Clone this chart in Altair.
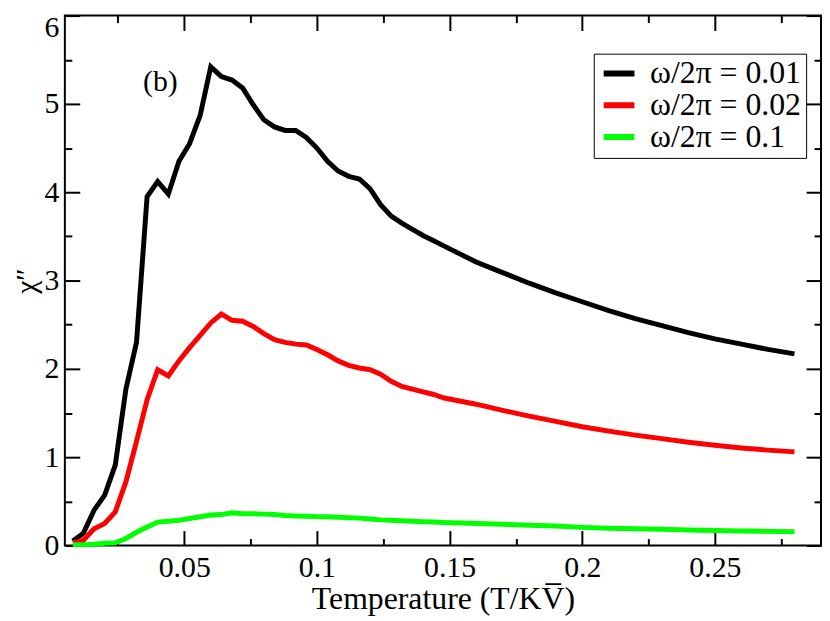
import altair as alt
import pandas as pd

# ---- data ----
T = [0.008, 0.012, 0.016, 0.020, 0.024, 0.028, 0.032, 0.036, 0.040, 0.044,
     0.048, 0.052, 0.056, 0.060, 0.064, 0.068, 0.072, 0.076, 0.080, 0.084,
     0.088, 0.092, 0.096, 0.100, 0.104, 0.108, 0.112, 0.116, 0.120, 0.124,
     0.128, 0.132, 0.136, 0.140, 0.144, 0.148,
     0.16, 0.17, 0.18, 0.19, 0.20, 0.21, 0.22, 0.23, 0.24, 0.25, 0.26, 0.27, 0.28]

chi_001 = [0.05, 0.14, 0.40, 0.57, 0.91, 1.77, 2.30, 3.95, 4.12, 3.98,
           4.35, 4.55, 4.87, 5.42, 5.31, 5.27, 5.18, 4.99, 4.82, 4.74,
           4.70, 4.70, 4.62, 4.50, 4.35, 4.24, 4.18, 4.15, 4.04, 3.86,
           3.73, 3.65, 3.58, 3.51, 3.45, 3.39,
           3.21, 3.09, 2.97, 2.86, 2.76, 2.66, 2.57, 2.49, 2.41, 2.34, 2.28, 2.22, 2.17]

chi_002 = [0.03, 0.06, 0.19, 0.25, 0.38, 0.72, 1.18, 1.65, 1.99, 1.92,
           2.09, 2.24, 2.38, 2.52, 2.62, 2.55, 2.54, 2.48, 2.40, 2.33,
           2.30, 2.28, 2.27, 2.22, 2.16, 2.09, 2.04, 2.01, 1.99, 1.94,
           1.86, 1.80, 1.77, 1.74, 1.71, 1.67,
           1.60, 1.53, 1.465, 1.405, 1.345, 1.295, 1.25, 1.21, 1.17, 1.135, 1.105, 1.08, 1.06]

chi_01 = [0.01, 0.01, 0.015, 0.025, 0.03, 0.08, 0.15, 0.21, 0.265, 0.275,
          0.285, 0.305, 0.325, 0.345, 0.35, 0.37, 0.36, 0.36, 0.355, 0.35,
          0.34, 0.335, 0.33, 0.327, 0.325, 0.32, 0.315, 0.31, 0.30, 0.29,
          0.285, 0.28, 0.275, 0.27, 0.265, 0.26,
          0.25, 0.24, 0.23, 0.22, 0.205, 0.195, 0.19, 0.185, 0.175, 0.17, 0.165, 0.16, 0.155]

series_names = ["ω/2π = 0.01", "ω/2π = 0.02", "ω/2π = 0.1"]
series_colors = ["#000000", "#ff0000", "#00ff00"]

x_major = [0.05, 0.1, 0.15, 0.2, 0.25]
x_minor = [0.025, 0.075, 0.125, 0.175, 0.225, 0.275]
y_major = [0, 1, 2, 3, 4, 5, 6]
y_minor = [0.5, 1.5, 2.5, 3.5, 4.5, 5.5]

note_text = ["(b)"]
note_x = [0.041]
note_y = [5.25]

rows = []
for name, vals in zip(series_names, [chi_001, chi_002, chi_01]):
    for t, v in zip(T, vals):
        rows.append({"T": t, "chi": v, "series": name})
df = pd.DataFrame(rows)
notes = pd.DataFrame({"text": note_text, "T": note_x, "chi": note_y})

FONT = "Liberation Serif"
x_scale = alt.Scale(domain=[0.005, 0.29], nice=False, zero=False)
y_scale = alt.Scale(domain=[0, 6], nice=False, zero=False)

base = alt.Chart(df)

lines = base.mark_line(strokeWidth=5).encode(
    x=alt.X("T:Q", scale=x_scale,
            axis=alt.Axis(orient="bottom", values=x_major, format="~g", ticks=False,
                          domain=False, grid=False, labelPadding=7,
                          labelFont=FONT, labelFontSize=30, labelColor="black",
                          title="Temperature (T/KV\u0305)", titleFont=FONT,
                          titleFontSize=32, titleFontWeight="normal",
                          titleColor="black", titlePadding=1)),
    y=alt.Y("chi:Q", scale=y_scale,
            axis=alt.Axis(orient="left", values=y_major, format="d", ticks=False,
                          domain=False, grid=False, labelPadding=6,
                          labelOffset={"condition": {"test": "datum.value === 6", "value": 12.5},
                                       "value": 0},
                          labelFont=FONT, labelFontSize=30, labelColor="black",
                          title="χ″", titleFont=FONT, titleFontSize=30,
                          titleFontWeight="normal", titleColor="black",
                          titlePadding=2.5)),
    color=alt.Color("series:N",
                    scale=alt.Scale(domain=series_names, range=series_colors),
                    legend=alt.Legend(title=None, orient="none", legendX=533, legendY=38.4,
                                      fillColor="white", strokeColor="black",
                                      padding=5, rowPadding=0, clipHeight=30,
                                      symbolOffset=2,
                                      symbolType="stroke", symbolSize=961,
                                      symbolStrokeWidth=6, labelFont=FONT,
                                      labelFontSize=32, labelColor="black",
                                      labelOffset=12.7, labelLimit=400)),
    order=alt.Order("T:Q"),
)


def tick_layer(xorient, yorient, xvals, yvals, size):
    inward = alt.ExprRef(expr=str(-size))
    return base.mark_line(strokeOpacity=0).encode(
        x=alt.X("T:Q", scale=x_scale,
                axis=alt.Axis(orient=xorient, values=xvals, tickSize=inward,
                              tickWidth=2, tickColor="black", labels=False,
                              domain=False, grid=False, title=None)),
        y=alt.Y("chi:Q", scale=y_scale,
                axis=alt.Axis(orient=yorient, values=yvals, tickSize=inward,
                              tickWidth=2, tickColor="black", labels=False,
                              domain=False, grid=False, title=None)),
        detail="series:N",
    )


note = alt.Chart(notes).mark_text(font=FONT, fontSize=30, color="black",
                                  align="center", baseline="middle").encode(
    x=alt.X("T:Q", scale=x_scale, axis=None),
    y=alt.Y("chi:Q", scale=y_scale, axis=None),
    text="text:N",
)

chart = alt.layer(
    lines,
    tick_layer("bottom", "left", x_major, y_major, 15),
    tick_layer("bottom", "left", x_minor, y_minor, 7),
    tick_layer("top", "right", x_major, y_major, 15),
    tick_layer("top", "right", x_minor, y_minor, 7),
    note,
).resolve_axis(x="independent", y="independent").properties(
    width=762, height=534,
    background="white",
    autosize=alt.AutoSizeParams(type="none"),
    padding={"left": 57.3, "top": 5.3, "right": 1, "bottom": 70},
).configure_view(
    stroke="black", strokeWidth=2
).configure_axis(
    labelFont=FONT, titleFont=FONT, labelFontSize=30, titleFontSize=30,
    labelColor="black", titleColor="black", titleFontWeight="normal"
).configure_legend(
    labelFont=FONT, labelFontSize=32, labelColor="black"
).configure_text(font=FONT)

chart.save("out.html", embed_options={"renderer": "svg", "actions": False})
